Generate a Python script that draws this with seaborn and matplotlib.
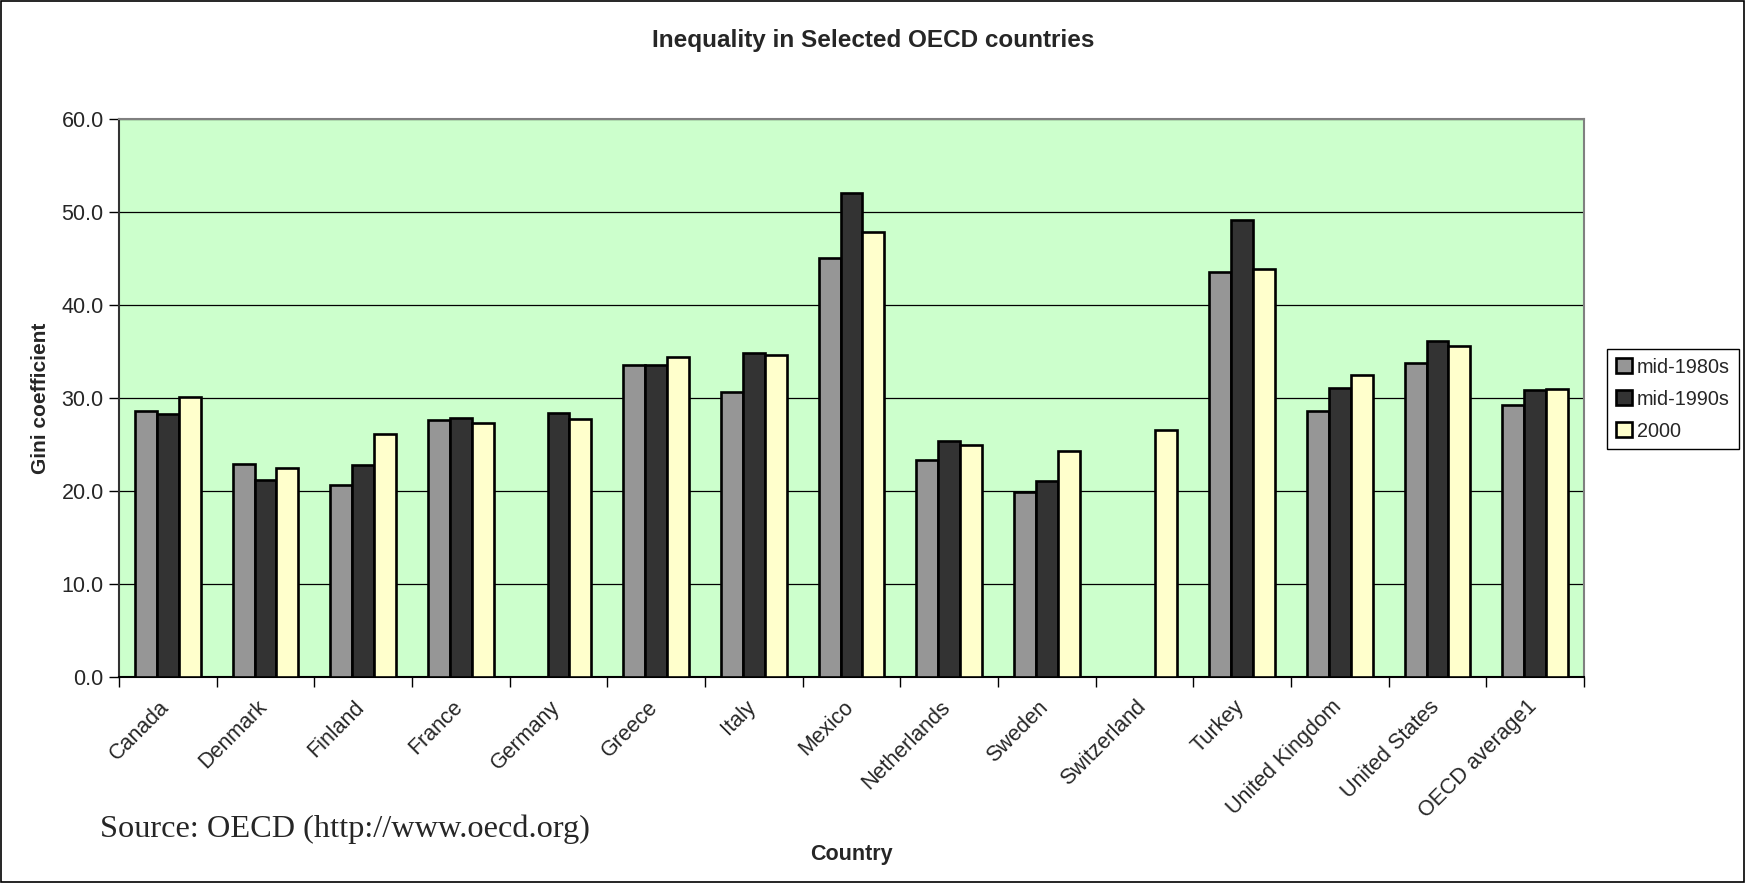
import numpy as np
import pandas as pd
import matplotlib
matplotlib.use("Agg")
import matplotlib.pyplot as plt
import matplotlib.transforms as mtransforms
import seaborn as sns
from matplotlib.patches import Rectangle

countries = ["Canada", "Denmark", "Finland", "France", "Germany", "Greece", "Italy",
             "Mexico", "Netherlands", "Sweden", "Switzerland", "Turkey",
             "United Kingdom", "United States", "OECD average1"]
series_names = ["mid-1980s", "mid-1990s", "2000"]
mid1980s = [28.6, 22.9, 20.6, 27.6, np.nan, 33.5, 30.6, 45.1, 23.3, 19.9, np.nan, 43.5, 28.6, 33.8, 29.3]
mid1990s = [28.3, 21.2, 22.8, 27.9, 28.4, 33.5, 34.8, 52.0, 25.4, 21.1, np.nan, 49.1, 31.1, 36.1, 30.9]
y2000 = [30.1, 22.5, 26.1, 27.3, 27.7, 34.4, 34.6, 47.9, 25.0, 24.3, 26.6, 43.9, 32.5, 35.6, 31.0]
y_ticks = [0, 10, 20, 30, 40, 50, 60]

colors = ["#969696", "#333333", "#FFFFCC"]

rows = []
for name, vals in zip(series_names, [mid1980s, mid1990s, y2000]):
    for c, v in zip(countries, vals):
        rows.append({"Country": c, "Period": name, "Gini": v})
df = pd.DataFrame(rows)

sns.set_style("white")
plt.rcParams["font.family"] = ["Liberation Sans", "DejaVu Sans"]

fig = plt.figure(figsize=(17.47, 8.83), dpi=100)
ax = fig.add_axes([0.0681, 0.2333, 0.9067 - 0.0681, 0.8652 - 0.2333])
ax.set_facecolor("#CCFFCC")

sns.barplot(data=df, x="Country", y="Gini", hue="Period", order=countries,
            hue_order=series_names, palette=colors, saturation=1, errorbar=None,
            width=0.67, edgecolor="black", linewidth=1.9, ax=ax, zorder=3)

ax.set_ylim(0, 60)
ax.set_xlim(-0.5, len(countries) - 0.5)
ax.set_yticks(y_ticks)
ax.set_yticklabels([f"{v:.1f}" for v in y_ticks], fontsize=15.5)
ax.yaxis.grid(True, color="black", linewidth=0.9, zorder=0)
ax.set_axisbelow(True)

# ticks at category boundaries, labels at centers
ax.set_xticks(np.arange(-0.5, len(countries), 1.0))
ax.set_xticklabels([])
ax.set_xticks(np.arange(len(countries)), minor=True)
ax.set_xticklabels(countries, minor=True, rotation=45, ha="right", va="top",
                   rotation_mode="anchor", fontsize=15.5)
ax.tick_params(axis="x", which="major", direction="out", length=7, width=1, color="black", bottom=True)
ax.tick_params(axis="x", which="minor", length=0, pad=14)
ax.tick_params(axis="y", direction="out", length=7, width=1, color="black", left=True, pad=4)
shift = mtransforms.ScaledTranslation(-9 / 100, 0, fig.dpi_scale_trans)
for lbl in ax.get_xticklabels(minor=True):
    lbl.set_transform(lbl.get_transform() + shift)

for side in ["top", "right"]:
    ax.spines[side].set_color("#808080")
    ax.spines[side].set_linewidth(1.5)
ax.spines["left"].set_color("#333333")
ax.spines["left"].set_linewidth(1.5)
ax.spines["bottom"].set_color("black")
ax.spines["bottom"].set_linewidth(1.5)

ax.set_xlabel("Country", fontsize=15.5, fontweight="bold")
ax.set_ylabel("Gini coefficient", fontsize=15, fontweight="bold")
ax.xaxis.set_label_coords(0.5, -0.30)
ax.yaxis.set_label_coords(-0.047, 0.5)

handles, labels = ax.get_legend_handles_labels()
leg = ax.legend(handles, labels, loc="center left",
                bbox_to_anchor=(0.920, 0.548), bbox_transform=fig.transFigure,
                fontsize=14.3, frameon=True, fancybox=False, framealpha=1,
                edgecolor="black", handlelength=0.8, handleheight=0.8,
                handletextpad=0.25, borderpad=0.45, labelspacing=0.65, borderaxespad=0)
leg.get_frame().set_linewidth(1.0)

fig.text(0.5, 1 - 41 / 883, "Inequality in Selected OECD countries",
         ha="center", va="center", fontsize=17.5, fontweight="bold")
fig.text(100 / 1747, 1 - 829 / 883, "Source: OECD (http://www.oecd.org)",
         ha="left", va="center", fontsize=23.3, family=["Liberation Serif", "DejaVu Serif"])

fig.patches.append(Rectangle((0.0005, 0.001), 0.998, 0.998, transform=fig.transFigure,
                             fill=False, edgecolor="black", linewidth=1.2))

fig.savefig("out.png", dpi=100)
